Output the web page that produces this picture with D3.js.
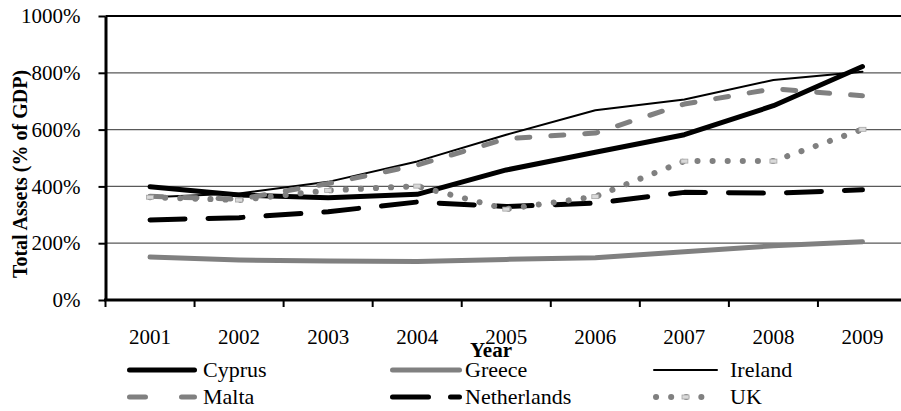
<!DOCTYPE html>
<html>
<head>
<meta charset="utf-8">
<script src="https://cdn.jsdelivr.net/npm/d3@7"></script>
<style>
    body { margin: 0; background: #fff; }
    svg text { font-family: "Liberation Serif", "Times New Roman", serif; }
</style>
</head>
<body>
<div id="chart"></div>
<script>
// chart data
var years = ['2001', '2002', '2003', '2004', '2005', '2006', '2007', '2008', '2009'];
var cyprus = [399, 370, 360, 372, 458, 520, 582, 684, 822];
var greece = [151, 141, 137, 136, 143, 149, 170, 191, 205];
var ireland = [362, 375, 416, 488, 582, 668, 706, 775, 804];
var malta = [365, 355, 410, 475, 568, 588, 690, 744, 719];
var netherlands = [282, 290, 311, 345, 329, 341, 379, 376, 388];
var uk = [362, 352, 386, 401, 320, 364, 489, 489, 601];
var y_ticks = [0, 200, 400, 600, 800, 1000];

var series = [
    {name: 'Cyprus', values: cyprus, color: '#000', width: 5, dash: null, cap: 'round'},
    {name: 'Greece', values: greece, color: '#808080', width: 5, dash: null, cap: 'round'},
    {name: 'Ireland', values: ireland, color: '#000', width: 2, dash: null, cap: 'round'},
    {name: 'Malta', values: malta, color: '#808080', width: 5, dash: '13,21', cap: 'round'},
    {name: 'Netherlands', values: netherlands, color: '#000', width: 5, dash: '35,23', cap: 'round'},
    {name: 'UK', values: uk, color: '#808080', width: 6, dash: '0.1,15', cap: 'round', marker: true}
];

var width = 901, height = 411;
var plot = {left: 105.5, right: 907, top: 16, bottom: 300};

var svg = d3.select('#chart').append('svg')
    .attr('width', width)
    .attr('height', height);

var x = d3.scaleBand()
    .domain(years)
    .range([plot.left, plot.right]);

var y = d3.scaleLinear()
    .domain([0, 1000])
    .range([plot.bottom, plot.top]);

// gridlines
svg.append('g')
    .selectAll('line')
    .data(y_ticks.filter(function(d){ return d > 0 && d < 1000; }))
    .enter().append('line')
    .attr('x1', plot.left)
    .attr('x2', plot.right)
    .attr('y1', function(d){ return y(d); })
    .attr('y2', function(d){ return y(d); })
    .attr('stroke', '#595959')
    .attr('stroke-width', 1.2);

// top border
svg.append('line')
    .attr('x1', plot.left)
    .attr('x2', plot.right)
    .attr('y1', y(1000))
    .attr('y2', y(1000))
    .attr('stroke', '#000')
    .attr('stroke-width', 2);

// lines
var line = d3.line()
    .x(function(d, i){ return x(years[i]) + x.bandwidth() / 2; })
    .y(function(d){ return y(d); });

series.forEach(function(s){
    svg.append('path')
        .datum(s.values)
        .attr('d', line)
        .attr('fill', 'none')
        .attr('stroke', s.color)
        .attr('stroke-width', s.width)
        .attr('stroke-linecap', s.cap)
        .attr('stroke-linejoin', 'round')
        .attr('stroke-dasharray', s.dash);

    if (s.marker){
        svg.append('g')
            .selectAll('rect')
            .data(s.values)
            .enter().append('rect')
            .attr('x', function(d, i){ return x(years[i]) + x.bandwidth() / 2 - 3.5; })
            .attr('y', function(d){ return y(d) - 2; })
            .attr('width', 7)
            .attr('height', 4)
            .attr('fill', '#d9d9d9')
            .attr('stroke', '#a6a6a6')
            .attr('stroke-width', 0.8);
    }
});

// y axis
var y_axis = svg.append('g')
    .attr('transform', 'translate(' + plot.left + ',0)')
    .call(d3.axisLeft(y)
        .tickValues(y_ticks)
        .tickFormat(function(d){ return d + '%'; })
        .tickSize(7)
        .tickSizeOuter(0)
        .tickPadding(18));

y_axis.select('.domain').attr('stroke-width', 3);
y_axis.selectAll('.tick line').attr('stroke-width', 2);
y_axis.selectAll('text')
    .attr('font-size', '21px')
    .attr('fill', '#000')
    .attr('font-family', '"Liberation Serif", serif');

// x axis, ticks between categories
var x_axis = svg.append('g')
    .attr('transform', 'translate(0,' + plot.bottom + ')');

x_axis.append('line')
    .attr('x1', plot.left - 1.5)
    .attr('x2', plot.right)
    .attr('stroke', '#000')
    .attr('stroke-width', 3);

x_axis.selectAll('.xtick')
    .data(years.concat(['end']))
    .enter().append('line')
    .attr('class', 'xtick')
    .attr('x1', function(d){ return d == 'end' ? plot.right : x(d); })
    .attr('x2', function(d){ return d == 'end' ? plot.right : x(d); })
    .attr('y1', 0)
    .attr('y2', 7)
    .attr('stroke', '#000')
    .attr('stroke-width', 2);

x_axis.selectAll('.xlabel')
    .data(years)
    .enter().append('text')
    .attr('class', 'xlabel')
    .attr('x', function(d){ return x(d) + x.bandwidth() / 2; })
    .attr('y', 44)
    .attr('text-anchor', 'middle')
    .attr('font-size', '21px')
    .text(function(d){ return d; });

// axis titles
svg.append('text')
    .attr('transform', 'translate(27,174) rotate(-90)')
    .attr('text-anchor', 'middle')
    .attr('font-size', '20px')
    .attr('font-weight', 'bold')
    .text('Total Assets (% of GDP)');

svg.append('text')
    .attr('x', 491)
    .attr('y', 357)
    .attr('text-anchor', 'middle')
    .attr('font-size', '21px')
    .attr('font-weight', 'bold')
    .text('Year');

// legend, three columns
var legend_cols = [{x1: 127, x2: 197, tx: 203}, {x1: 390, x2: 462, tx: 465}, {x1: 653, x2: 718, tx: 730}];
var legend_rows = [370, 397];

series.forEach(function(s, i){
    var col = legend_cols[i % 3];
    var row = legend_rows[Math.floor(i / 3)];
    var g = svg.append('g').attr('class', 'legend');

    var dash = s.dash;
    if (s.name == 'Malta') dash = '16,36';
    if (s.name == 'Netherlands') dash = '36,22';

    g.append('line')
        .attr('x1', col.x1 + (s.cap == 'round' ? s.width / 2 : 0))
        .attr('x2', col.x2 - (s.cap == 'round' ? s.width / 2 : 0))
        .attr('y1', row)
        .attr('y2', row)
        .attr('stroke', s.color)
        .attr('stroke-width', s.width)
        .attr('stroke-linecap', s.cap)
        .attr('stroke-dasharray', dash);

    if (s.marker){
        g.append('rect')
            .attr('x', (col.x1 + col.x2) / 2 - 3.5)
            .attr('y', row - 2)
            .attr('width', 7)
            .attr('height', 4)
            .attr('fill', '#d9d9d9')
            .attr('stroke', '#a6a6a6')
            .attr('stroke-width', 0.8);
    }

    g.append('text')
        .attr('x', col.tx)
        .attr('y', row + 7)
        .attr('font-size', '22px')
        .text(s.name);
});
</script>
</body>
</html>
